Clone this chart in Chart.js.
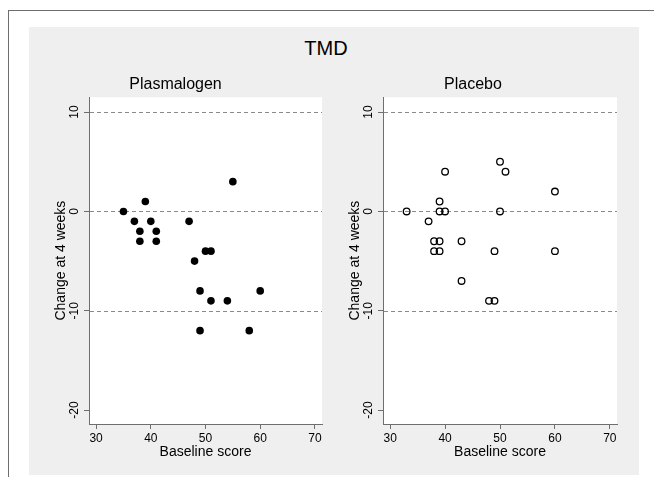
<!DOCTYPE html>
<html>
<head>
<meta charset="utf-8">
<script src="https://cdn.jsdelivr.net/npm/chart.js@4"></script>
<style>
  body { margin: 0; background: #fff; font-family: "Liberation Sans", Arial, sans-serif; }
  #page { position: relative; width: 654px; height: 477px; overflow: hidden; }
  #frame-top { position: absolute; left: 8px; top: 10px; width: 646px; height: 1px; background: #6e6e6e; }
  #frame-left { position: absolute; left: 8px; top: 10px; width: 1px; height: 467px; background: #6e6e6e; }
  #panel { position: absolute; left: 29px; top: 27px; width: 610px; height: 448px; background: #efefef; }
  #main-title { position: absolute; left: 226px; top: 37px; width: 200px; text-align: center; font-size: 20px; color: #000; }
  canvas { position: absolute; top: 27px; }
  #left-chart { left: 29px; }
  #right-chart { left: 329px; }
</style>
</head>
<body>
<div id="page">
  <div id="frame-top"></div>
  <div id="frame-left"></div>
  <div id="panel"></div>
  <div id="main-title">TMD</div>
  <canvas id="left-chart" width="300" height="448"></canvas>
  <canvas id="right-chart" width="310" height="448"></canvas>
</div>
<script>
// Axis ticks and reference lines
const xTicks = [30, 40, 50, 60, 70];
const yTicks = [-20, -10, 0, 10];
const refLines = [-10, 0, 10];

// Plasmalogen group (filled markers)
const plasmalogenBaseline = [35, 39, 37, 40, 38, 41, 38, 41, 47, 55, 50, 51, 48, 49, 60, 51, 54, 49, 58];
const plasmalogenChange = [0, 1, -1, -1, -2, -2, -3, -3, -1, 3, -4, -4, -5, -8, -8, -9, -9, -12, -12];

// Placebo group (hollow markers)
const placeboBaseline = [33, 37, 39, 39, 40, 40, 38, 39, 38, 39, 43, 43, 49, 48, 49, 50, 51, 50, 60, 60];
const placeboChange = [0, -1, 1, 0, 0, 4, -3, -3, -4, -4, -3, -7, -4, -9, -9, 5, 4, 0, 2, -4];

const axisColor = "#6e6e6e";
const fontFamily = '"Liberation Sans", Arial, sans-serif';

// Draws white plot region, dashed reference lines and the axis texts
const stataLook = {
  id: "stataLook",
  beforeDraw(chart) {
    const { ctx, chartArea: a } = chart;
    ctx.save();
    ctx.fillStyle = "#fff";
    ctx.fillRect(a.left, a.top, a.right - a.left, a.bottom - a.top);
    ctx.restore();
  },
  beforeDatasetsDraw(chart) {
    const { ctx, chartArea: a } = chart;
    const y = chart.scales.y;
    ctx.save();
    ctx.strokeStyle = "#8a8a8a";
    ctx.lineWidth = 1;
    ctx.setLineDash([4, 3]);
    refLines.forEach((v) => {
      const py = Math.round(y.getPixelForValue(v)) + 0.5;
      ctx.beginPath();
      ctx.moveTo(a.left + 1, py);
      ctx.lineTo(a.right, py);
      ctx.stroke();
    });
    ctx.restore();
  },
  afterDraw(chart) {
    const { ctx, chartArea: a } = chart;
    const x = chart.scales.x;
    const y = chart.scales.y;
    ctx.save();
    ctx.fillStyle = "#000";
    ctx.textAlign = "center";
    ctx.textBaseline = "middle";

    // x tick labels
    ctx.font = "12px " + fontFamily;
    xTicks.forEach((v) => {
      ctx.fillText(String(v), x.getPixelForValue(v), a.bottom + 15);
    });

    // x title
    ctx.font = "14px " + fontFamily;
    ctx.fillText("Baseline score", (a.left + a.right) / 2, a.bottom + 28);

    // y tick labels, rotated
    ctx.font = "12px " + fontFamily;
    yTicks.forEach((v) => {
      ctx.save();
      ctx.translate(a.left - 14, y.getPixelForValue(v));
      ctx.rotate(-Math.PI / 2);
      ctx.fillText(String(v), 0, 0);
      ctx.restore();
    });

    // y title
    ctx.font = "14px " + fontFamily;
    ctx.translate(a.left - 28, (a.top + a.bottom) / 2);
    ctx.rotate(-Math.PI / 2);
    ctx.fillText("Change at 4 weeks", 0, 0);
    ctx.restore();
  },
};

function makeChart(canvasId, title, xs, ys, filled, yAxisWidth, padRight) {
  const ctx = document.getElementById(canvasId).getContext("2d");
  return new Chart(ctx, {
    type: "scatter",
    data: {
      datasets: [
        {
          label: title,
          data: xs.map((v, i) => ({ x: v, y: ys[i] })),
          pointStyle: "circle",
          pointRadius: filled ? 3.8 : 3.3,
          pointBackgroundColor: filled ? "#000" : "rgba(0,0,0,0)",
          pointBorderColor: "#000",
          pointBorderWidth: filled ? 0 : 1.3,
        },
      ],
    },
    options: {
      responsive: false,
      animation: false,
      events: [],
      layout: { padding: { left: 0, right: padRight, top: 0, bottom: 0 } },
      plugins: {
        legend: { display: false },
        tooltip: { enabled: false },
        title: {
          display: true,
          text: title,
          color: "#000",
          font: { family: fontFamily, size: 16, weight: "normal" },
          padding: { top: 48, bottom: 3 },
        },
      },
      scales: {
        x: {
          type: "linear",
          min: 28.7,
          max: 71.3,
          afterBuildTicks: (s) => { s.ticks = xTicks.map((v) => ({ value: v })); },
          afterFit: (s) => { s.height = 51; },
          ticks: { display: false },
          grid: { drawOnChartArea: false, drawTicks: true, tickLength: 5, color: axisColor },
          border: { display: true, color: axisColor, width: 1 },
        },
        y: {
          type: "linear",
          min: -21.4,
          max: 11.5,
          afterBuildTicks: (s) => { s.ticks = yTicks.map((v) => ({ value: v })); },
          afterFit: (s) => { s.width = yAxisWidth; },
          ticks: { display: false },
          grid: { drawOnChartArea: false, drawTicks: true, tickLength: 5, color: axisColor },
          border: { display: true, color: axisColor, width: 1 },
        },
      },
    },
    plugins: [stataLook],
  });
}

makeChart("left-chart", "Plasmalogen", plasmalogenBaseline, plasmalogenChange, true, 60, 7);
makeChart("right-chart", "Placebo", placeboBaseline, placeboChange, false, 54, 22);
</script>
</body>
</html>
